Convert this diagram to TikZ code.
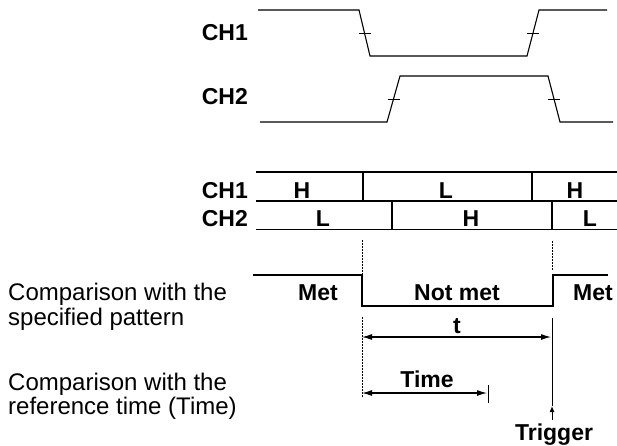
\documentclass[tikz,border=0pt]{standalone}
\usepackage{fontspec}
\setmainfont{Liberation Sans}
\usetikzlibrary{arrows.meta}
\begin{document}
\begin{tikzpicture}[x=1pt,y=-1pt,
  wave/.style={line width=1.1pt, line join=miter},
  tickmark/.style={line width=0.9pt},
  gridline/.style={line width=1.1pt},
  guide/.style={line width=0.7pt, dash pattern=on 1.5pt off 1.5pt},
  dim/.style={line width=1.1pt, {Latex[length=10pt,width=6pt]}-{Latex[length=10pt,width=6pt]}},
  lbl/.style={font=\fontsize{23}{25}\selectfont\bfseries, inner sep=0pt, anchor=base},
  txt/.style={font=\fontsize{24}{25}\selectfont, inner sep=0pt, anchor=base west}]
\useasboundingbox (0,0) rectangle (617,445);

% --- top waveforms
\node[lbl, anchor=base east] (ch1w) at (248,40) {CH1};
\node[lbl, anchor=base east] (ch2w) at (248,104) {CH2};
\draw[wave] (258,10) -- (359,10) -- (370,56) -- (527,56) -- (539,10) -- (607,10);
\draw[tickmark] (358.5,33) -- (370.5,33);
\draw[tickmark] (527,33) -- (539,33);
\draw[wave] (260,122) -- (387,122) -- (400,76) -- (548,76) -- (560,122) -- (613,122);
\draw[tickmark] (387.5,99) -- (399.5,99);
\draw[tickmark] (548,99) -- (560,99);

% --- table
\draw[gridline] (256,172) -- (617,172);
\draw[gridline] (256,201) -- (617,201);
\draw[gridline] (256,229.5) -- (617,229.5);
\draw[gridline] (363,172) -- (363,201);
\draw[gridline] (532,172) -- (532,201);
\draw[gridline] (392,201) -- (392,229.5);
\draw[gridline] (552,201) -- (552,229.5);
\node[lbl, anchor=base east] (ch1t) at (248,198) {CH1};
\node[lbl, anchor=base east] (ch2t) at (248,226) {CH2};
\node[lbl] (h1) at (302,198) {H};
\node[lbl] (l1) at (446,198) {L};
\node[lbl] (h2) at (575,198) {H};
\node[lbl] (l2) at (323,226) {L};
\node[lbl] (h3) at (471,226) {H};
\node[lbl] (l3) at (590,226) {L};

% --- guides
\draw[guide] (362,240) -- (362,275);
\draw[guide] (362,317) -- (362,398);
\draw[guide] (552,241) -- (552,271);

% --- pattern result
\draw[wave] (253,275) -- (362,275) -- (362,306) -- (553,306) -- (553,275) -- (608,275);
\node[lbl] (met1) at (318,300) {Met};
\node[lbl] (notmet) at (457,300) {Not met};
\node[lbl] (met2) at (593,300) {Met};

% --- left descriptions
\node[txt] (d1a) at (8,300) {Comparison with the};
\node[txt] (d1b) at (8,325) {specified pattern};
\node[txt] (d2a) at (8,390) {Comparison with the};
\node[txt] (d2b) at (8,414) {reference time (Time)};

% --- t dimension
\coordinate (tL) at (362,337);
\coordinate (tR) at (551,337);
\draw[dim] (tL) -- (tR);
\node[lbl] (tlab) at (457,333) {t};

% --- Time dimension
\coordinate (mL) at (362,393);
\coordinate (mR) at (487,393);
\draw[dim] (mL) -- (mR);
\draw[tickmark] (488,385) -- (488,403);
\node[lbl] (mlab) at (427,387) {Time};

% --- trigger
\node[lbl] (trig) at (554,440) {Trigger};
\coordinate (trigTop) at (552,318);
\coordinate (trigTip) at (552,406);
\coordinate (trigBase) at (552,420);
\draw[line width=1pt] (trigTop) -- (trigTip);
\draw[line width=1pt, -{Latex[length=6pt,width=5pt]}] (trigBase) -- (trigTip);
\end{tikzpicture}
\end{document}
